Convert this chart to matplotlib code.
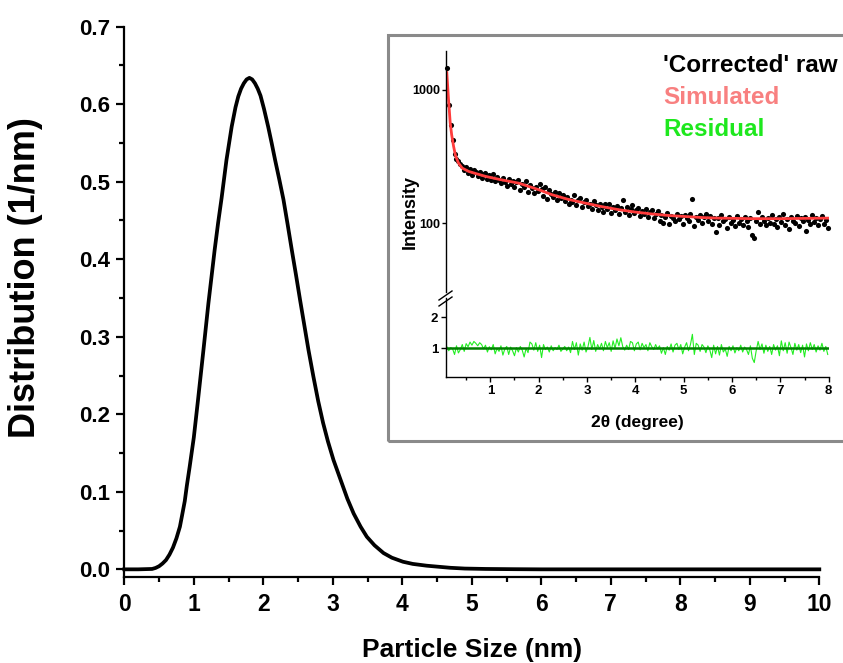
import numpy as np
import matplotlib.pyplot as plt
from matplotlib.ticker import MultipleLocator, FixedLocator, NullLocator
from matplotlib.lines import Line2D
from matplotlib.patches import Rectangle

plt.rcParams['font.family'] = ['Liberation Sans', 'DejaVu Sans']
plt.rcParams['font.weight'] = 'bold'

# main panel: size distribution
size_nm = [0.0, 0.2, 0.4, 0.45, 0.5, 0.55, 0.6, 0.65, 0.7, 0.75, 0.8, 0.83, 0.87,
           0.9, 0.94, 1.0, 1.06, 1.14, 1.21, 1.30, 1.35, 1.40, 1.47, 1.545, 1.60,
           1.64, 1.68, 1.72, 1.76, 1.80, 1.84, 1.88, 1.92, 1.96, 2.01, 2.07,
           2.12, 2.17, 2.23, 2.29, 2.35, 2.41, 2.47, 2.53, 2.59, 2.65, 2.72,
           2.79, 2.86, 2.93, 3.01, 3.13, 3.21, 3.30, 3.40, 3.49, 3.60, 3.73,
           3.85, 4.01, 4.15, 4.35, 4.5, 4.69, 4.9, 5.2, 5.6, 6.0, 7.0, 8.0, 9.0,
           10.0]
distribution = [0.0, 0.0, 0.0005, 0.0018, 0.004, 0.0075, 0.012, 0.019, 0.028,
                0.040, 0.055, 0.069, 0.088, 0.108, 0.132, 0.170, 0.218, 0.284,
                0.343, 0.412, 0.447, 0.479, 0.528, 0.571, 0.596, 0.610, 0.620,
                0.627, 0.632, 0.634, 0.632, 0.627, 0.620, 0.611, 0.594, 0.571,
                0.550, 0.528, 0.503, 0.477, 0.445, 0.412, 0.380, 0.347, 0.315,
                0.283, 0.249, 0.217, 0.189, 0.165, 0.141, 0.111, 0.091, 0.072,
                0.055, 0.042, 0.031, 0.021, 0.015, 0.0098, 0.007, 0.0047, 0.0035,
                0.002, 0.001, 0.0005, 0.0002, 0.0, 0.0, 0.0, 0.0, 0.0]

# inset: XRD scan on a 0.04 degree grid starting at 0.10
scan_start, scan_step = 0.10, 0.04
intensity = [
    1450, 760, 540, 420, 330, 300, 290, 275, 268, 252,
    262, 238, 255, 230, 248, 242, 225, 240, 218, 232,
    236, 215, 228, 210, 232, 205, 222, 212, 198, 218,
    202, 190, 214, 196, 208, 185, 203, 210, 178, 195,
    188, 205, 172, 192, 182, 168, 188, 175, 196, 180,
    160, 185, 152, 176, 165, 158, 172, 150, 168, 155,
    162, 146, 158, 140, 150, 144, 162, 136, 148, 155,
    132, 145, 150, 134, 140, 128, 146, 137, 125, 140,
    133, 122, 138, 128, 140, 120, 132, 126, 135, 118,
    129, 150, 122, 131, 116, 128, 136, 119, 126, 130,
    114, 124, 118, 128, 112, 121, 126, 110, 118, 123,
    104, 116, 100, 112, 120, 98, 114, 110, 103, 117,
    108, 113, 99, 116, 110, 104, 118, 152, 95, 112,
    106, 115, 101, 111, 118, 104, 113, 98, 109, 86,
    110, 96, 115, 103, 108, 92, 112, 100, 106, 95,
    114, 101, 108, 97, 111, 103, 94, 109, 82, 77,
    104, 122, 99, 112, 104, 96, 110, 101, 115, 98,
    107, 93, 112, 102, 118, 97, 108, 91, 111, 104,
    100, 114, 95, 109, 103, 112, 88, 106, 98, 115,
    102, 110, 96, 108, 113, 99, 105, 92]
residual = [
    1.05, 0.92, 1.02, 0.98, 0.80, 1.08, 0.85, 0.96, 1.12, 0.90,
    1.15, 1.05, 1.20, 1.10, 1.22, 1.16, 1.08, 1.18, 1.12, 0.98,
    1.10, 0.88, 1.05, 0.95, 1.12, 0.82, 1.00, 0.90, 1.08, 0.78,
    0.98, 1.06, 0.80, 1.04, 0.92, 0.76, 1.02, 0.88, 1.06, 0.94,
    0.72, 1.00, 0.86, 1.20, 1.14, 0.94, 1.18, 0.90, 1.10, 0.70,
    1.12, 0.96, 1.04, 0.88, 1.08, 0.92, 1.02, 0.96, 1.10, 0.90,
    0.98, 1.06, 0.92, 1.04, 0.86, 1.22, 0.96, 1.18, 0.78, 1.14,
    0.94, 1.20, 0.88, 1.05, 1.35, 0.96, 1.25, 0.90, 1.12, 0.98,
    1.16, 0.92, 1.22, 1.02, 1.18, 0.90, 1.24, 1.00, 1.30, 1.08,
    1.34, 1.05, 0.94, 1.10, 0.96, 1.22, 1.18, 0.92, 1.14, 1.20,
    0.95, 1.16, 1.02, 1.12, 0.92, 1.18, 1.05, 0.96, 1.12, 0.98,
    1.08, 0.84, 1.02, 0.80, 1.06, 0.94, 1.14, 0.88, 1.10, 1.16,
    0.96, 1.12, 0.82, 1.04, 1.18, 0.92, 1.12, 1.45, 0.80, 1.16,
    1.10, 0.90, 1.12, 1.04, 0.86, 1.08, 0.95, 0.70, 1.10, 0.82,
    1.06, 0.78, 1.12, 0.88, 0.98, 0.74, 1.06, 0.92, 1.08, 0.85,
    1.02, 0.92, 1.10, 0.88, 1.04, 0.96, 0.80, 1.08, 0.68, 0.54,
    0.92, 1.22, 0.96, 1.14, 0.84, 1.10, 0.90, 1.06, 0.80, 1.12,
    0.94, 1.08, 0.76, 1.24, 0.92, 1.18, 0.84, 1.20, 1.02, 0.80,
    1.16, 0.94, 1.12, 0.86, 1.10, 0.72, 1.14, 0.92, 1.18, 0.96,
    1.12, 0.88, 1.08, 0.94, 1.16, 0.90, 1.06, 0.80]
two_theta = scan_start + scan_step * np.arange(len(intensity))

fit_x = [0.1, 0.13, 0.17, 0.2, 0.24, 0.28, 0.34, 0.42, 0.55, 0.7, 0.9, 1.2, 1.59,
         2.0, 2.28, 2.6, 2.97, 3.3, 3.66, 4.0, 4.35, 4.7, 5.04, 5.4, 5.72, 6.1,
         6.41, 7.0, 7.5, 8.0]
fit_y = [1340, 900, 565, 460, 376, 320, 282, 258, 244, 235, 224, 212, 199, 178,
         163, 151, 141, 133, 126, 121, 117, 114, 112, 110, 109, 108.5, 108, 108,
         108.5, 109]

legend_labels = ["'Corrected' raw", 'Simulated', 'Residual']
legend_colors = ['black', '#f88080', '#1ee81e']

W, H = 843, 663
fig = plt.figure(figsize=(W / 100, H / 100), dpi=100)


def box(left, top, right, bottom):
    return [left / W, 1 - bottom / H, (right - left) / W, (bottom - top) / H]


# ---- main plot
ax = fig.add_axes(box(124.3, 26.7, 819.3, 576.7))
ax.plot(size_nm, distribution, color='black', lw=2.7, clip_on=False,
        solid_joinstyle='round')
ax.set_xlim(0, 10)
ax.set_ylim(-0.0095, 0.7)
for s in ['top', 'right']:
    ax.spines[s].set_visible(False)
for s in ['left', 'bottom']:
    ax.spines[s].set_linewidth(1.6)
ax.set_xticks(range(0, 11))
ax.xaxis.set_minor_locator(MultipleLocator(0.5))
ax.set_yticks(np.arange(0, 0.71, 0.1))
ax.set_yticklabels(['%.1f' % v for v in np.arange(0, 0.71, 0.1)])
ax.yaxis.set_minor_locator(MultipleLocator(0.05))
ax.tick_params(which='both', direction='out', width=1.6)
ax.tick_params(which='major', length=6)
ax.tick_params(which='minor', length=3.5)
ax.tick_params(axis='y', labelsize=16, pad=4)
ax.tick_params(axis='x', labelsize=16.5, pad=6)
ax.set_ylabel('Distribution (1/nm)', fontsize=26, fontweight='bold')
ax.yaxis.set_label_coords((26 - 124.3) / 695, (576.7 - 278) / 550)
ax.set_xlabel('Particle Size (nm)', fontsize=19, fontweight='bold')
ax.xaxis.set_label_coords((472.5 - 124.3) / 695, (576.7 - 650) / 550)
ax.xaxis.label.set_va('center')
ax.yaxis.label.set_va('center')

# ---- inset frame
fig.add_artist(Rectangle((388 / W, 1 - 441 / H), 1.02 - 388 / W, (441 - 35) / H,
                         transform=fig.transFigure, fill=False,
                         edgecolor='#8a8a8a', lw=2.2, clip_on=False))

# ---- inset upper (log)
axu = fig.add_axes(box(445.7, 51, 828.7, 292))
axu.plot(two_theta, intensity, 'o', color='black', ms=3.7, mew=0, clip_on=False)
axu.plot(fit_x, fit_y, color='#ff3c3c', lw=2.0)
axu.set_yscale('log')
axu.set_xlim(0.077, 8)
axu.set_ylim(30.5, 1944)
for s in ['top', 'right', 'bottom']:
    axu.spines[s].set_visible(False)
axu.spines['left'].set_linewidth(1.0)
axu.set_xticks([])
axu.yaxis.set_major_locator(FixedLocator([100, 1000]))
axu.yaxis.set_minor_locator(NullLocator())
axu.set_yticklabels(['100', '1000'])
axu.tick_params(axis='y', direction='out', length=3, width=1, labelsize=9, pad=1)
axu.set_ylabel('Intensity', fontsize=13, fontweight='bold')
axu.yaxis.set_label_coords((410 - 445.7) / 383, (292 - 212) / 241)
axu.yaxis.label.set_va('center')

# ---- inset lower (residual)
axl = fig.add_axes(box(445.7, 298, 828.7, 377.3))
axl.plot(two_theta, residual, color='#22ee22', lw=0.8)
axl.plot([two_theta[0], two_theta[-1]], [1, 1], color='#008000', lw=1.8)
axl.set_xlim(0.077, 8)
axl.set_ylim(0.065, 2.62)
for s in ['top', 'right']:
    axl.spines[s].set_visible(False)
for s in ['left', 'bottom']:
    axl.spines[s].set_linewidth(1.0)
axl.set_yticks([1, 2])
axl.set_xticks(range(1, 9))
axl.xaxis.set_minor_locator(MultipleLocator(0.5))
axl.tick_params(which='both', direction='out', width=1, labelsize=9.5, pad=2)
axl.tick_params(which='major', length=3.5)
axl.tick_params(which='minor', length=2)
axl.set_xlabel('2θ (degree)', fontsize=12.5, fontweight='bold')
axl.xaxis.set_label_coords((637 - 445.7) / 383, (377.3 - 423) / 79.3)
axl.xaxis.label.set_va('center')

# axis break marks
for dy in (0, 6):
    fig.add_artist(Line2D([439 / W, 452 / W], [1 - (300 + dy) / H, 1 - (291 + dy) / H],
                          transform=fig.transFigure, color='black', lw=1.0))

# legend-like labels
for i, (lab, col) in enumerate(zip(legend_labels, legend_colors)):
    fig.text(663 / W, 1 - (65 + 32 * i) / H, lab, color=col, fontsize=17.5,
             fontweight='bold', ha='left', va='center')

fig.savefig('out.png', dpi=100)
